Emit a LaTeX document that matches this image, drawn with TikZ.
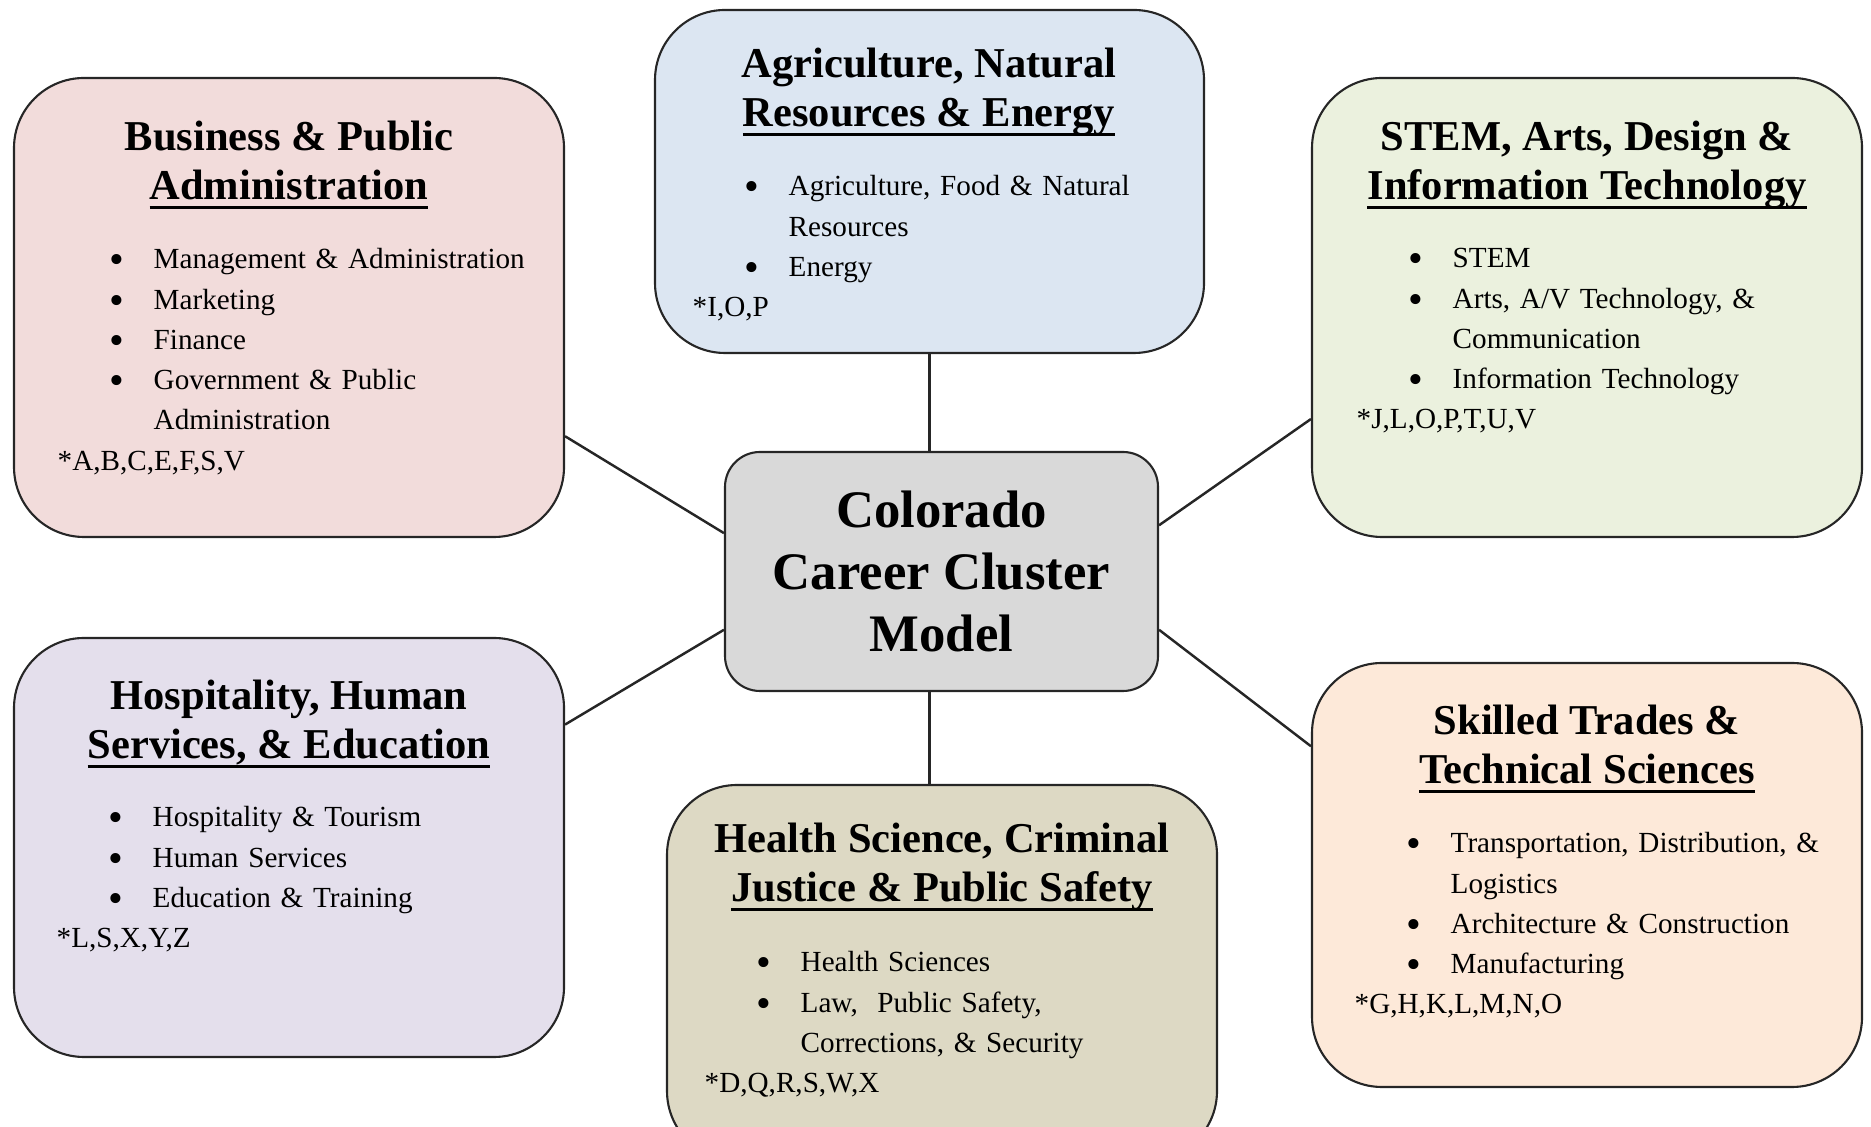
\documentclass[tikz,border=0pt]{standalone}
\usepackage{fontspec}
\setmainfont{Liberation Serif}
\usetikzlibrary{calc}
\definecolor{busfill}{HTML}{F2DCDB}
\definecolor{agrfill}{HTML}{DCE6F2}
\definecolor{stemfill}{HTML}{EBF1DE}
\definecolor{hospfill}{HTML}{E4DFEC}
\definecolor{hlthfill}{HTML}{DDD9C4}
\definecolor{trdfill}{HTML}{FDE9D9}
\definecolor{ctrfill}{HTML}{D9D9D9}
\def\BoxW{5.5cm}
\def\Rad{0.7cm}
\def\Lift{0.50}
\newcommand{\ulbar}[1]{\setbox0=\hbox{#1}\rlap{\rule[-2.7pt]{\wd0}{0.85pt}}\box0}
\newcommand{\bigdot}{\smash{\raisebox{-1.4pt}{\fontsize{12}{12}\selectfont\textbullet}}}
\newcommand{\itm}[1]{\hangindent=0.96cm\hangafter=1\noindent\hspace*{0.52cm}\makebox[0.44cm][l]{\bigdot}#1\par}
\newcommand{\cds}[1]{\noindent#1}
\tikzset{
  cbox/.style={draw=black!85, line width=0.6pt, rounded corners=\Rad, minimum width=\BoxW, inner sep=0},
  ctitle/.style={align=center, inner sep=0, anchor=base, font=\bfseries\fontsize{12.1}{14.2}\selectfont},
  clist/.style={text width=5cm, inner sep=0, anchor=base west, font=\fontsize{8.3}{11.45}\selectfont},
  link/.style={draw=black!85, line width=0.7pt}
}

\begin{document}
\begin{tikzpicture}
  \useasboundingbox (0,0) rectangle (18.71,11.26);

  % cluster boxes
  \node[cbox, fill=busfill, minimum height=4.59cm] (bus) at (2.89, 8.185) {};
  \node[cbox, fill=agrfill, minimum width=5.49cm, minimum height=3.43cm] (agr) at (9.295, 9.445) {};
  \node[cbox, fill=stemfill, minimum height=4.59cm] (stem) at (15.87, 8.185) {};
  \node[cbox, fill=hospfill, minimum height=4.19cm] (hosp) at (2.89, 2.785) {};
  \node[cbox, fill=hlthfill, minimum height=3.76cm] (hlth) at (9.42, 1.53) {};
  \node[cbox, fill=trdfill, minimum height=4.24cm] (trd) at (15.87, 2.51) {};

  % middle box
  \node[cbox, fill=ctrfill, rounded corners=0.35cm, minimum width=4.33cm, minimum height=2.39cm,
        align=center, font=\bfseries\fontsize{15}{17.6}\selectfont] (ctr) at (9.415, 5.545)
        {Colorado\\Career Cluster\\Model};

  % titles (anchor sits on the second line)
  \node[ctitle] (busT) at (2.89, 9.76-\Lift) {Business \& Public\\\ulbar{Administration}};
  \node[ctitle] (agrT) at (9.29, 10.49-\Lift) {Agriculture, Natural\\\ulbar{Resources \& Energy}};
  \node[ctitle] (stemT) at (15.87, 9.76-\Lift) {STEM, Arts, Design \&\\\ulbar{Information Technology}};
  \node[ctitle] (hospT) at (2.89, 4.17-\Lift) {Hospitality, Human\\\ulbar{Services, \& Education}};
  \node[ctitle] (hlthT) at (9.42, 2.74-\Lift) {Health Science, Criminal\\\ulbar{Justice \& Public Safety}};
  \node[ctitle] (trdT) at (15.87, 3.92-\Lift) {Skilled Trades \&\\\ulbar{Technical Sciences}};

  % lists
  \node[clist] (busL) at (0.57, 8.57) {\itm{Management \& Administration}\itm{Marketing}\itm{Finance}%
    \itm{Government \& Public\newline Administration}\cds{*A,B,C,E,F,S,V}};
  \node[clist] (agrL) at (6.92, 9.30) {\itm{Agriculture, Food \& Natural\newline Resources}\itm{Energy}%
    \cds{*I,O,P}};
  \node[clist] (stemL) at (13.56, 8.58) {\itm{STEM}\itm{Arts, A/V Technology, \&\newline Communication}%
    \itm{Information Technology}\cds{*J,L,O,P,T,U,V}};
  \node[clist] (hospL) at (0.56, 2.99) {\itm{Hospitality \& Tourism}\itm{Human Services}%
    \itm{Education \& Training}\cds{*L,S,X,Y,Z}};
  \node[clist] (hlthL) at (7.04, 1.54) {\itm{Health Sciences}\itm{Law,\ \ Public Safety,\newline Corrections, \& Security}%
    \cds{*D,Q,R,S,W,X}};
  \node[clist] (trdL) at (13.54, 2.73) {\itm{Transportation, Distribution, \&\newline Logistics}%
    \itm{Architecture \& Construction}\itm{Manufacturing}\cds{*G,H,K,L,M,N,O}};

  % links
  \draw[link] (bus.-25) -- (ctr.170);
  \draw[link] (hosp.24) -- (ctr.-165);
  \draw[link] (stem.202) -- (ctr.12);
  \draw[link] (trd.155) -- (ctr.-15);
  \draw[link] (agr.south) -- (agr.south |- ctr.north);
  \draw[link] (ctr.south -| agr.south) -- (hlth.north -| agr.south);
\end{tikzpicture}
\end{document}
